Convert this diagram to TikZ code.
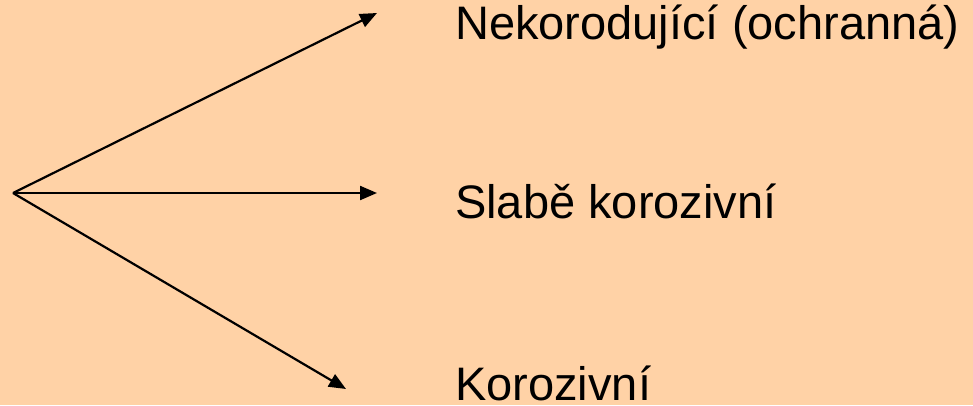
\documentclass[tikz,border=0pt]{standalone}
\usepackage{fontspec}
\setmainfont{Liberation Sans}
\usetikzlibrary{arrows.meta}
\definecolor{peach}{RGB}{255,210,166}
\tikzset{
  arr/.style={line width=2.2pt,draw=black,-{Triangle[length=17pt,width=14pt]}},
  lbl/.style={anchor=base west,inner sep=0pt,font=\fontsize{47}{52}\selectfont}
}
\begin{document}
\begin{tikzpicture}[x=1pt,y=-1pt]
\fill[peach] (0,0) rectangle (973,405);
\useasboundingbox (0,0) rectangle (973,405);
\coordinate (o) at (13,193);
\coordinate (t1) at (377,13);
\coordinate (t2) at (377,193);
\coordinate (t3) at (346,389);
\draw[arr] (o) -- (t1);
\draw[arr] (o) -- (t2);
\draw[arr] (o) -- (t3);
\node[lbl] (n1) at (455,39) {Nekorodující (ochranná)};
\node[lbl] (n2) at (455,218) {Slabě korozivní};
\node[lbl] (n3) at (455,400) {Korozivní};
\end{tikzpicture}
\end{document}
